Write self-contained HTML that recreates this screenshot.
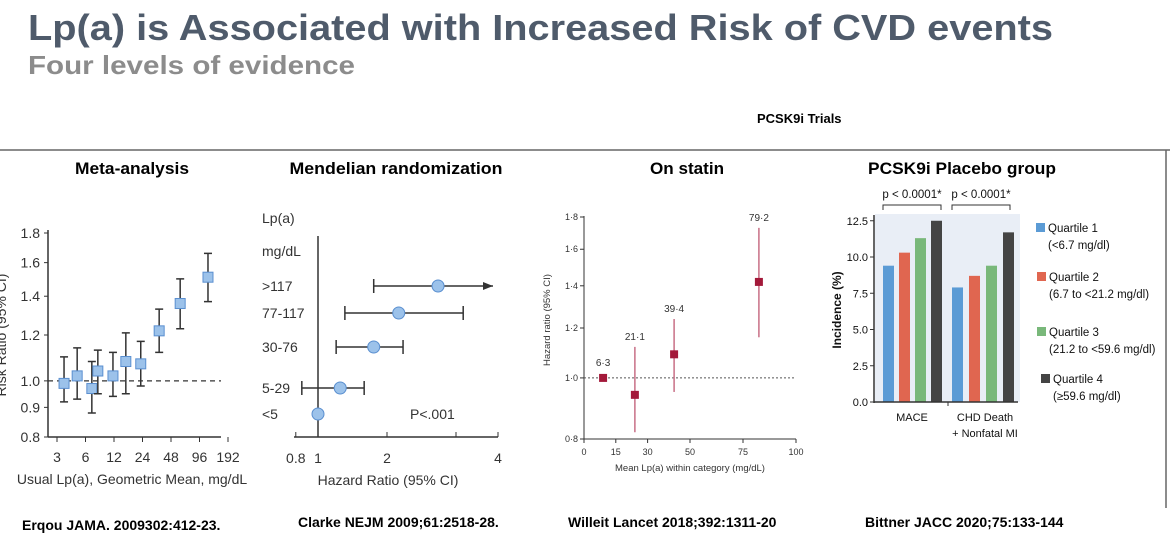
<!DOCTYPE html>
<html><head><meta charset="utf-8"><style>
body{margin:0;background:#fff;}
svg{display:block;font-family:"Liberation Sans",sans-serif;}
</style></head><body>
<svg id="s" width="1170" height="558" viewBox="0 0 1170 558">
<text x="28" y="40" font-size="36" font-weight="bold" fill="#4f5b6b" textLength="1025" lengthAdjust="spacingAndGlyphs">Lp(a) is Associated with Increased Risk of CVD events</text>
<text x="28" y="74" font-size="26" font-weight="bold" fill="#8c8c8c" textLength="327" lengthAdjust="spacingAndGlyphs">Four levels of evidence</text>
<text x="757" y="123" font-size="13" font-weight="bold" fill="#000">PCSK9i Trials</text>
<line x1="0" y1="150" x2="1170" y2="150" stroke="#666" stroke-width="1.5"/>
<line x1="1166" y1="150" x2="1166" y2="508" stroke="#666" stroke-width="1.5"/>
<g font-size="17" font-weight="bold" text-anchor="middle" fill="#000">
<text x="132" y="174" textLength="114" lengthAdjust="spacingAndGlyphs">Meta-analysis</text>
<text x="396" y="174" textLength="213" lengthAdjust="spacingAndGlyphs">Mendelian randomization</text>
<text x="687" y="174" textLength="74" lengthAdjust="spacingAndGlyphs">On statin</text>
<text x="962" y="174" textLength="188" lengthAdjust="spacingAndGlyphs">PCSK9i Placebo group</text>
</g>
<g font-size="14" font-weight="bold" fill="#000">
<text x="22" y="530">Erqou JAMA. 2009302:412-23.</text>
<text x="298" y="527">Clarke NEJM 2009;61:2518-28.</text>
<text x="568" y="527">Willeit Lancet 2018;392:1311-20</text>
<text x="865" y="527">Bittner JACC 2020;75:133-144</text>
</g>
<g id="p1"></g><g id="p2"></g><g id="p3"></g><g id="p4"></g>
</svg>
<script>
// Panel 1: meta-analysis
const p1X=[3.56,4.9,7.0,8.1,11.7,16,23,36,60,118];
const p1Y=[0.99,1.02,0.97,1.04,1.02,1.08,1.07,1.22,1.36,1.51];
const p1Lo=[0.92,0.93,0.88,0.95,0.94,0.95,0.98,1.12,1.23,1.37];
const p1Hi=[1.10,1.14,1.08,1.13,1.12,1.21,1.17,1.33,1.50,1.66];
const p1XTicks=[3,6,12,24,48,96,192];
const p1YTicks=[0.8,0.9,1.0,1.2,1.4,1.6,1.8];
// Panel 2: Mendelian randomization
const p2Cats=[">117","77-117","30-76","5-29","<5"];
const p2HR=[3.34,2.25,1.75,1.25,1.0];
const p2Lo=[1.75,1.31,1.2,0.85,null];
const p2Hi=[5.8,4.3,2.35,1.59,null];
const p2XTicks=[0.8,1,2,4];
// Panel 3: on statin
const p3X=[9,24,42.5,82.5];
const p3Y=[1.0,0.94,1.09,1.42];
const p3Lo=[null,0.82,0.95,1.16];
const p3Hi=[null,1.12,1.24,1.73];
const p3Labels=["6·3","21·1","39·4","79·2"];
const p3XTicks=[0,15,30,50,75,100];
const p3YTicks=["0·8","1·0","1·2","1·4","1·6","1·8"];
const p3YTickVals=[0.8,1.0,1.2,1.4,1.6,1.8];
// Panel 4: PCSK9i placebo
const p4Groups=["MACE","CHD Death"];
const p4Q1=[9.4,7.9];
const p4Q2=[10.3,8.7];
const p4Q3=[11.3,9.4];
const p4Q4=[12.5,11.7];
const p4YTicks=[0,2.5,5,7.5,10,12.5];
const p4Legend=["Quartile 1","Quartile 2","Quartile 3","Quartile 4"];
const p4LegendSub=["(<6.7 mg/dl)","(6.7 to <21.2 mg/dl)","(21.2 to <59.6 mg/dl)","(≥59.6 mg/dl)"];

const NS="http://www.w3.org/2000/svg";
function mk(parent,tag,attrs,text){const e=document.createElementNS(NS,tag);for(const k in attrs)e.setAttribute(k,attrs[k]);if(text!==undefined)e.textContent=text;parent.appendChild(e);return e;}

// ---- Panel 1
(function(){
const g=document.getElementById('p1');
const x=v=>57+28.5*Math.log2(v/3);
const y=v=>437-(Math.log(v)-Math.log(0.8))/(Math.log(1.8)-Math.log(0.8))*204;
let e;
e=mk(g,'line',{x1:48,y1:230,x2:48,y2:437,stroke:'#333','stroke-width':1.5});

e=mk(g,'line',{x1:48,y1:437,x2:221,y2:437,stroke:'#333','stroke-width':1.5});

e=mk(g,'line',{x1:48,y1:y(1),x2:221,y2:y(1),stroke:'#333','stroke-width':1.2,'stroke-dasharray':'5,4'});

p1YTicks.forEach(t=>{
 mk(g,'line',{x1:44,y1:y(t),x2:48,y2:y(t),stroke:'#333'});
 e=mk(g,'text',{x:40,y:y(t)+5,'font-size':14,'text-anchor':'end',fill:'#333'},t.toFixed(1));
 
});
p1XTicks.forEach(t=>{
 mk(g,'line',{x1:x(t),y1:437,x2:x(t),y2:442,stroke:'#333'});
 e=mk(g,'text',{x:x(t),y:462,'font-size':14,'text-anchor':'middle',fill:'#333'},String(t));
 
});
p1X.forEach((v,i)=>{
 const cx=x(v);
 e=mk(g,'path',{d:`M${cx},${y(p1Lo[i])}V${y(p1Hi[i])}M${cx-4},${y(p1Lo[i])}h8M${cx-4},${y(p1Hi[i])}h8`,stroke:'#333','stroke-width':1.5,fill:'none'});
 
 e=mk(g,'rect',{x:cx-5,y:y(p1Y[i])-5,width:10,height:10,fill:'#9cc2ea',stroke:'#5a8fd0','stroke-width':1});
 
});
e=mk(g,'text',{x:132,y:484,'font-size':14,'text-anchor':'middle',fill:'#333'},'Usual Lp(a), Geometric Mean, mg/dL');

e=mk(g,'text',{transform:'translate(6,335) rotate(-90)','font-size':14,'text-anchor':'middle',fill:'#333'},'Risk Ratio (95% CI)');

})();

// ---- Panel 2
(function(){
const g=document.getElementById('p2');
const x=v=>318+69*Math.log2(v);
const rowY=[286,313,347,388,414];
let e;
e=mk(g,'line',{x1:318,y1:236,x2:318,y2:437,stroke:'#333','stroke-width':1.5});

e=mk(g,'line',{x1:294,y1:437,x2:498,y2:437,stroke:'#333','stroke-width':1.5});

mk(g,'line',{x1:498,y1:432,x2:498,y2:437,stroke:'#333'});
p2XTicks.forEach(t=>{
 mk(g,'line',{x1:x(t),y1:432,x2:x(t),y2:437,stroke:'#333'});
 e=mk(g,'text',{x:t===4?498:x(t),y:463,'font-size':14,'text-anchor':'middle',fill:'#333'},String(t));
 
});
e=mk(g,'text',{x:262,y:223,'font-size':14,fill:'#333'},'Lp(a)');

e=mk(g,'text',{x:262,y:256,'font-size':14,fill:'#333'},'mg/dL');

p2Cats.forEach((c,i)=>{
 const yy=rowY[i];
 e=mk(g,'text',{x:262,y:yy+5,'font-size':14,fill:'#333'},c);
 
 if(p2Lo[i]!==null){
  const x1=x(p2Lo[i]),x2=Math.min(x(p2Hi[i]),500);
  e=mk(g,'path',{d:`M${x1},${yy}H${x2}M${x1},${yy-7}v14`+(i===0?'':`M${x2},${yy-7}v14`),stroke:'#333','stroke-width':1.5,fill:'none'});
  
  if(i===0){e=mk(g,'path',{d:`M${x2},${yy}l-10,-4v8z`,fill:'#333'});
  }
 }
 e=mk(g,'circle',{cx:x(p2HR[i]),cy:yy,r:6,fill:'#9cc2ea',stroke:'#5a8fd0'});
 
});
e=mk(g,'text',{x:410,y:419,'font-size':14,fill:'#333'},'P<.001');

e=mk(g,'text',{x:388,y:485,'font-size':14,'text-anchor':'middle',fill:'#333'},'Hazard Ratio (95% CI)');

})();

// ---- Panel 3
(function(){
const g=document.getElementById('p3');
const x=v=>584+2.12*v;
const y=v=>439-(Math.log(v)-Math.log(0.8))/(Math.log(1.8)-Math.log(0.8))*222;
let e;
e=mk(g,'line',{x1:584,y1:216,x2:584,y2:439,stroke:'#333'});

e=mk(g,'line',{x1:584,y1:439,x2:796,y2:439,stroke:'#333'});

e=mk(g,'line',{x1:584,y1:y(1),x2:796,y2:y(1),stroke:'#555','stroke-dasharray':'2,2'});

p3YTickVals.forEach((t,i)=>{
 mk(g,'line',{x1:580,y1:y(t),x2:584,y2:y(t),stroke:'#333'});
 e=mk(g,'text',{x:578,y:y(t)+3,'font-size':9,'text-anchor':'end',fill:'#333'},p3YTicks[i]);
 
});
p3XTicks.forEach(t=>{
 mk(g,'line',{x1:x(t),y1:439,x2:x(t),y2:443,stroke:'#333'});
 e=mk(g,'text',{x:x(t),y:455,'font-size':9,'text-anchor':'middle',fill:'#333'},String(t));
 
});
p3X.forEach((v,i)=>{
 const cx=x(v);
 if(p3Lo[i]!==null){
  e=mk(g,'line',{x1:cx,y1:y(p3Lo[i]),x2:cx,y2:y(p3Hi[i]),stroke:'#c86f86','stroke-width':1.5});
  
 }
 e=mk(g,'rect',{x:cx-4,y:y(p3Y[i])-4,width:8,height:8,fill:'#a3193a'});
 
 const top=p3Hi[i]!==null?y(p3Hi[i]):y(p3Y[i])-5;
 e=mk(g,'text',{x:cx,y:top-7,'font-size':10,'text-anchor':'middle',fill:'#333'},p3Labels[i]);
 
});
e=mk(g,'text',{x:690,y:471,'font-size':9.5,'text-anchor':'middle',fill:'#333'},'Mean Lp(a) within category (mg/dL)');

e=mk(g,'text',{transform:'translate(550,320) rotate(-90)','font-size':9.5,'text-anchor':'middle',fill:'#333'},'Hazard ratio (95% CI)');

})();

// ---- Panel 4
(function(){
const g=document.getElementById('p4');
const y=v=>402-14.5*v;
const colors=['#5b9bd5','#e06650','#79b87a','#444'];
const series=[p4Q1,p4Q2,p4Q3,p4Q4];
const groupX=[883,952],step=[16,17];
let e;
e=mk(g,'rect',{x:875,y:214,width:145,height:188,fill:'#e9eef6'});

p4Groups.forEach((gr,gi)=>{
 series.forEach((s,si)=>{
  e=mk(g,'rect',{x:groupX[gi]+si*step[gi],y:y(s[gi]),width:11,height:402-y(s[gi]),fill:colors[si]});
  
 });
 const bx=groupX[gi];
 e=mk(g,'path',{d:`M${bx},210v-5h58v5`,stroke:'#333',fill:'none'});
 
 e=mk(g,'text',{x:bx+29,y:198,'font-size':11.5,'text-anchor':'middle',fill:'#111'},'p < 0.0001*');
 
});
e=mk(g,'line',{x1:874,y1:215,x2:874,y2:403,stroke:'#333','stroke-width':1.5});

e=mk(g,'line',{x1:874,y1:402,x2:1018,y2:402,stroke:'#333','stroke-width':1.5});

mk(g,'line',{x1:948,y1:402,x2:948,y2:406,stroke:'#333'});
p4YTicks.forEach(t=>{
 mk(g,'line',{x1:870,y1:y(t),x2:874,y2:y(t),stroke:'#333'});
 e=mk(g,'text',{x:868,y:y(t)+4,'font-size':11,'text-anchor':'end',fill:'#111'},t.toFixed(1));
 
});
e=mk(g,'text',{x:912,y:421,'font-size':11,'text-anchor':'middle',fill:'#111'},p4Groups[0]);

e=mk(g,'text',{x:985,y:421,'font-size':11,'text-anchor':'middle',fill:'#111'},p4Groups[1]);

e=mk(g,'text',{x:985,y:437,'font-size':11,'text-anchor':'middle',fill:'#111'},'+ Nonfatal MI');

e=mk(g,'text',{transform:'translate(841,310) rotate(-90)','font-size':12,'font-weight':'bold','text-anchor':'middle',fill:'#111'},'Incidence (%)');

const ly=[228,277,332,379],lx=[1036,1037,1037,1041];
p4Legend.forEach((l,i)=>{
 e=mk(g,'rect',{x:lx[i],y:ly[i]-5,width:9,height:9,fill:colors[i]});
 
 e=mk(g,'text',{x:lx[i]+12,y:ly[i]+4,'font-size':11.5,fill:'#111'},l);
 
 e=mk(g,'text',{x:lx[i]+12,y:ly[i]+21,'font-size':11.5,fill:'#111'},p4LegendSub[i]);
 
});
})();
</script>
</body></html>
